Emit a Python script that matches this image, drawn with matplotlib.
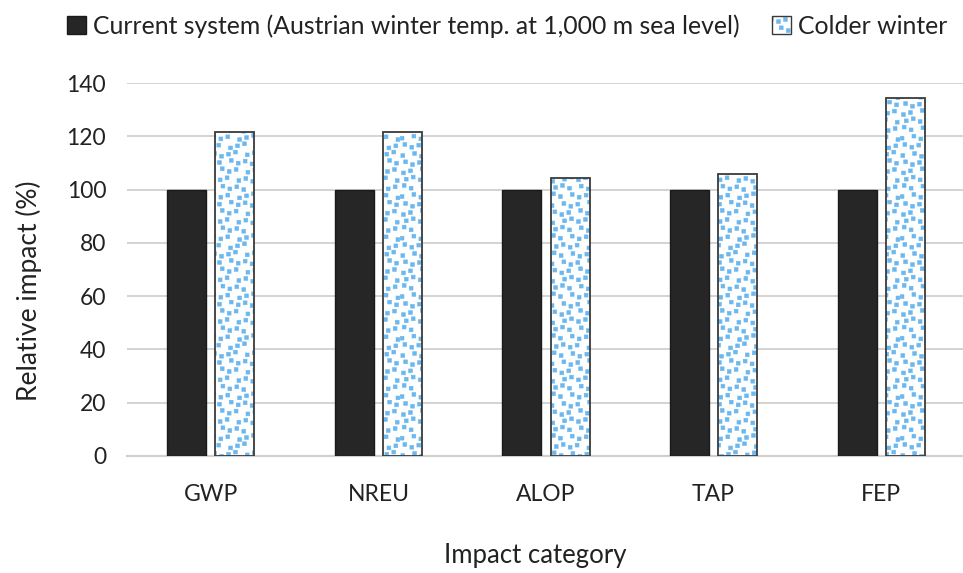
import matplotlib
matplotlib.use("Agg")
import matplotlib.pyplot as plt
import matplotlib.hatch as mhatch
import numpy as np
from matplotlib.patches import Patch

plt.rcParams['font.family'] = ['Lato', 'DejaVu Sans']
plt.rcParams['hatch.linewidth'] = 0.4

categories = ["GWP", "NREU", "ALOP", "TAP", "FEP"]
current = [100, 100, 100, 100, 100]
colder = [121.5, 121.5, 104.5, 105.8, 134.3]
series_names = ["Current system (Austrian winter temp. at 1,000 m sea level)", "Colder winter"]


class SquareConfetti(mhatch.HatchPatternBase):
    """Scattered small squares, used in place of the '.' hatch."""

    def __init__(self, hatch, density):
        self.n = 12 if '.' in hatch else 0
        self.num_vertices = self.n * self.n * 5

    def set_vertices_and_codes(self, vertices, codes):
        n = self.n
        step = 1.0 / n
        half = 0.019
        k = 0
        for i in range(n):
            for j in range(n):
                jx = ((i * 5 + j * 3) % 7) / 6.0 - 0.5
                jy = ((i * 3 + j * 4 + 2) % 7) / 6.0 - 0.5
                cx = (i + 0.5 + 0.5 * jx) * step
                cy = (j + 0.5 + 0.5 * jy) * step
                vertices[k:k + 5] = [(cx - half, cy - half), (cx + half, cy - half),
                                     (cx + half, cy + half), (cx - half, cy + half),
                                     (cx - half, cy - half)]
                codes[k:k + 5] = [1, 2, 2, 2, 79]
                k += 5


mhatch._hatch_types = [SquareConfetti if t is mhatch.SmallFilledCircles else t
                       for t in mhatch._hatch_types]

fig = plt.figure(figsize=(9.63, 5.73), dpi=100)
ax = fig.add_axes([127 / 963, 1 - 456 / 573, 838 / 963, 373 / 573])

x = np.arange(len(categories))
w = 0.233
gap = 0.054
off = (w + gap) / 2
ax.bar(x - off, current, width=w, color='#262626', edgecolor='#1a1a1a', linewidth=1.0, zorder=3)
ax.bar(x + off, colder, width=w, color='white', edgecolor='#6cb8ee', linewidth=0,
       hatch='.', zorder=3)
ax.bar(x + off, colder, width=w, fill=False, edgecolor='#3a3a3a', linewidth=1.3, zorder=4)

ax.set_ylim(0, 140)
ax.set_xlim(-0.5, len(categories) - 0.5)
ax.set_yticks(range(0, 141, 20))
ax.yaxis.grid(True, color='#d0d0d0', linewidth=1.3, zorder=0)
ax.set_axisbelow(True)
for s in ['top', 'right', 'left']:
    ax.spines[s].set_visible(False)
ax.spines['bottom'].set_color('#d0d0d0')
ax.spines['bottom'].set_linewidth(1.6)
ax.tick_params(axis='both', length=0, labelsize=16.5, colors='#222222')
ax.tick_params(axis='y', pad=15)
ax.set_xticks(x)
ax.set_xticklabels(categories)
ax.tick_params(axis='x', pad=20)

ax.set_ylabel("Relative impact (%)", fontsize=19, color='#222222')
ax.yaxis.set_label_coords(-0.101, 0.442)
fig.text(535 / 963, 1 - 556 / 573, "Impact category", fontsize=18.5, color='#222222',
         ha='center', va='center')

blue_patch = Patch(facecolor='white', edgecolor='#6cb8ee', linewidth=0, hatch='.')
outline = Patch(fill=False, edgecolor='#3a3a3a', linewidth=1.0)
handles = [Patch(facecolor='#262626', edgecolor='#1a1a1a'), (blue_patch, outline)]
fig.legend(handles, series_names, loc='center', bbox_to_anchor=(0.527, 1 - 26 / 573), ncol=2,
           frameon=False, fontsize=17.8, handlelength=0.75, handleheight=0.75,
           handletextpad=0.3, columnspacing=1.3, labelcolor='#222222')

fig.savefig("out.png", dpi=100)
